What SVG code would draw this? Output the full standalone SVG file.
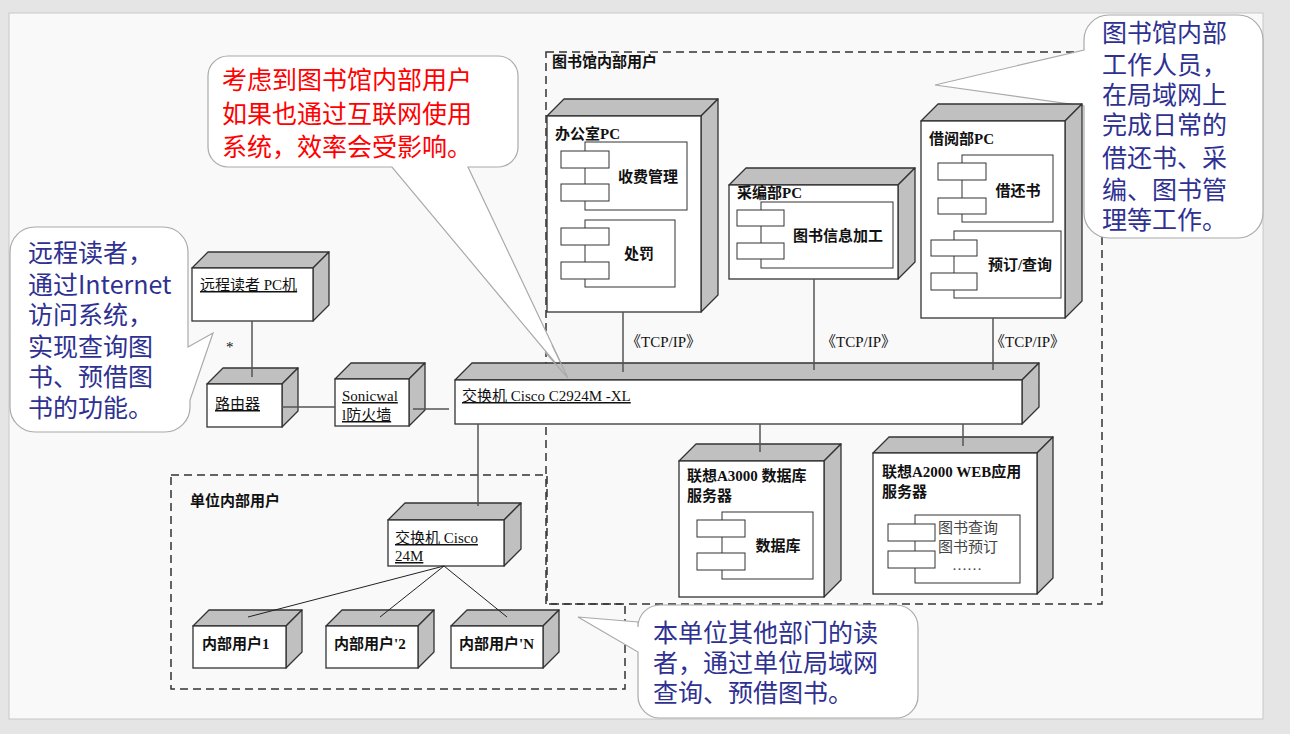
<svg xmlns="http://www.w3.org/2000/svg" width="1290" height="734" viewBox="0 0 1290 734">
<style>
.top{fill:#c0c0c0;stroke:#333;stroke-width:1.3;stroke-linejoin:round}
.front{fill:#fff;stroke:#333;stroke-width:1.3}
.comp{fill:#fff;stroke:#333;stroke-width:1}
.conn{stroke:#555;stroke-width:1.5;fill:none}
.thin{stroke:#222;stroke-width:1;fill:none}
.dash{fill:none;stroke:#333;stroke-width:1.5;stroke-dasharray:8 5}
.callout{fill:#fff;stroke:#aaa;stroke-width:1.2}
.ptr{stroke:#aaa;stroke-width:1.2;fill:none}
.lbl{font-family:"Liberation Serif","Noto Sans CJK SC",serif;font-size:15px;fill:#111}
.b{font-weight:bold}
.u{text-decoration:underline}
.cmp{font-size:15px}
.gray{fill:#444}
.ct{font-family:"Noto Sans CJK SC","Noto Sans",sans-serif;font-size:25px}
.blue{fill:#2e3192}
.red{fill:#ff0000}
</style>
<rect x="0" y="0" width="1290" height="734" fill="#e5e5e5"/>
<rect x="9" y="13" width="1254" height="706" fill="#f9f9f9" stroke="#c8c8c8" stroke-width="1"/>

<g id="frames">
<path class="dash" d="M546,52 H1102 V604 H546 Z"/>
<path class="dash" d="M171,475 H547 V604 H625 V689 H171 Z"/>
<text class="lbl b" x="552" y="67">图书馆内部用户</text>
<text class="lbl b" x="190" y="506">单位内部用户</text>
</g>

<g id="callout-red">
<path class="callout" d="M228,56 H498 A20,20 0 0 1 518,76 V147 A20,20 0 0 1 498,167 H468 L568,378 L392,167 H228 A20,20 0 0 1 208,147 V76 A20,20 0 0 1 228,56 Z"/>
<text class="ct red" x="222" y="89">考虑到图书馆内部用户</text>
<text class="ct red" x="222" y="123">如果也通过互联网使用</text>
<text class="ct red" x="222" y="156">系统，效率会受影响。</text>
</g>

<g id="callout-left">
<path class="callout" d="M35,227 H163 A25,25 0 0 1 188,252 V347 L213,333 L190,400 V407 A25,25 0 0 1 165,432 H35 A25,25 0 0 1 10,407 V252 A25,25 0 0 1 35,227 Z"/>
<text class="ct blue" x="28" y="262">远程读者，</text>
<text class="ct blue" x="28" y="294">通过Internet</text>
<text class="ct blue" x="28" y="324">访问系统，</text>
<text class="ct blue" x="28" y="356">实现查询图</text>
<text class="ct blue" x="28" y="386">书、预借图</text>
<text class="ct blue" x="28" y="417">书的功能。</text>
</g>

<g id="callout-right">
<path class="callout" d="M1109,15 H1238 A25,25 0 0 1 1263,40 V213 A25,25 0 0 1 1238,238 H1109 A25,25 0 0 1 1084,213 V106 L935,85 L1084,50 V40 A25,25 0 0 1 1109,15 Z"/>
<text class="ct blue" x="1102" y="42">图书馆内部</text>
<text class="ct blue" x="1102" y="74">工作人员，</text>
<text class="ct blue" x="1102" y="104">在局域网上</text>
<text class="ct blue" x="1102" y="134">完成日常的</text>
<text class="ct blue" x="1102" y="167">借还书、采</text>
<text class="ct blue" x="1102" y="199">编、图书管</text>
<text class="ct blue" x="1102" y="229">理等工作。</text>
</g>

<g id="callout-bottom">
<path class="callout" d="M660,605 H896 A22,22 0 0 1 918,627 V696 A22,22 0 0 1 896,718 H660 A22,22 0 0 1 638,696 V652 L578,617 L638,622 V627 A22,22 0 0 1 660,605 Z"/>
<text class="ct blue" x="653" y="642">本单位其他部门的读</text>
<text class="ct blue" x="653" y="672">者，通过单位局域网</text>
<text class="ct blue" x="653" y="702">查询、预借图书。</text>
</g>

<g id="remote-pc">
<polygon class="top" points="192,268 208,252 329,252 313,268"/>
<polygon class="top" points="313,268 329,252 329,305 313,321"/>
<rect class="front" x="192" y="268" width="121" height="53"/>
<text class="lbl u" x="200" y="290">远程读者  PC机</text>
<text class="lbl" x="226" y="352">*</text>
</g>

<g id="router">
<polygon class="top" points="207,384 223,368 298,368 282,384"/>
<polygon class="top" points="282,384 298,368 298,411 282,427"/>
<rect class="front" x="207" y="384" width="75" height="43"/>
<text class="lbl u" x="215" y="409">路由器</text>
</g>

<g id="firewall">
<polygon class="top" points="335,379 351,363 425,363 409,379"/>
<polygon class="top" points="409,379 425,363 425,410 409,426"/>
<rect class="front" x="335" y="379" width="74" height="47"/>
<text class="lbl u" x="342" y="401">Sonicwal</text>
<text class="lbl u" x="342" y="420">l防火墙</text>
</g>

<g id="main-switch">
<polygon class="top" points="455,380 472,363 1039,363 1022,380"/>
<polygon class="top" points="1022,380 1039,363 1039,407 1022,424"/>
<rect class="front" x="455" y="380" width="567" height="44"/>
<text class="lbl u" x="462" y="401">交换机  Cisco C2924M -XL</text>
</g>

<g id="office-pc">
<polygon class="top" points="547,116 564,99 718,99 701,116"/>
<polygon class="top" points="701,116 718,99 718,295 701,312"/>
<rect class="front" x="547" y="116" width="154" height="196"/>
<text class="lbl b" x="555" y="139">办公室PC</text>
<rect class="comp" x="585" y="142" width="102" height="68"/>
<rect class="comp" x="561" y="151" width="48" height="17"/>
<rect class="comp" x="561" y="184" width="48" height="17"/>
<text class="lbl b cmp" x="648" y="182" text-anchor="middle">收费管理</text>
<rect class="comp" x="585" y="220" width="90" height="67"/>
<rect class="comp" x="561" y="228" width="48" height="17"/>
<rect class="comp" x="561" y="262" width="48" height="17"/>
<text class="lbl b cmp" x="639" y="259" text-anchor="middle">处罚</text>
</g>

<g id="caibian-pc">
<polygon class="top" points="729,185 746,168 915,168 898,185"/>
<polygon class="top" points="898,185 915,168 915,262 898,279"/>
<rect class="front" x="729" y="185" width="169" height="94"/>
<text class="lbl b" x="737" y="198">采编部PC</text>
<rect class="comp" x="761" y="202" width="132" height="66"/>
<rect class="comp" x="737" y="210" width="47" height="16"/>
<rect class="comp" x="737" y="243" width="47" height="16"/>
<text class="lbl b cmp" x="838" y="241" text-anchor="middle">图书信息加工</text>
</g>

<g id="jieyue-pc">
<polygon class="top" points="921,121 938,104 1082,104 1065,121"/>
<polygon class="top" points="1065,121 1082,104 1082,301 1065,318"/>
<rect class="front" x="921" y="121" width="144" height="197"/>
<text class="lbl b" x="929" y="144">借阅部PC</text>
<rect class="comp" x="962" y="155" width="91" height="67"/>
<rect class="comp" x="938" y="163" width="48" height="17"/>
<rect class="comp" x="938" y="198" width="48" height="16"/>
<text class="lbl b cmp" x="1018" y="196" text-anchor="middle">借还书</text>
<rect class="comp" x="954" y="231" width="107" height="67"/>
<rect class="comp" x="931" y="240" width="46" height="16"/>
<rect class="comp" x="931" y="273" width="46" height="17"/>
<text class="lbl b cmp" x="1020" y="270" text-anchor="middle">预订/查询</text>
</g>

<g id="db-server">
<polygon class="top" points="679,461 696,444 841,444 824,461"/>
<polygon class="top" points="824,461 841,444 841,580 824,597"/>
<rect class="front" x="679" y="461" width="145" height="136"/>
<text class="lbl b" x="687" y="481">联想A3000  数据库</text>
<text class="lbl b" x="687" y="501">服务器</text>
<rect class="comp" x="722" y="512" width="91" height="67"/>
<rect class="comp" x="697" y="520" width="48" height="17"/>
<rect class="comp" x="697" y="553" width="48" height="17"/>
<text class="lbl b cmp" x="778" y="551" text-anchor="middle">数据库</text>
</g>

<g id="web-server">
<polygon class="top" points="873,453 889,437 1053,437 1037,453"/>
<polygon class="top" points="1037,453 1053,437 1053,578 1037,594"/>
<rect class="front" x="873" y="453" width="164" height="141"/>
<text class="lbl b" x="882" y="477">联想A2000 WEB应用</text>
<text class="lbl b" x="882" y="497">服务器</text>
<rect class="comp" x="915" y="515" width="105" height="68"/>
<rect class="comp" x="888" y="524" width="47" height="17"/>
<rect class="comp" x="888" y="551" width="47" height="17"/>
<text class="lbl gray" x="938" y="533">图书查询</text>
<text class="lbl gray" x="938" y="552">图书预订</text>
<text class="lbl gray" x="952" y="570">……</text>
</g>

<g id="unit-switch">
<polygon class="top" points="388,520 405,503 521,503 504,520"/>
<polygon class="top" points="504,520 521,503 521,549 504,566"/>
<rect class="front" x="388" y="520" width="116" height="46"/>
<text class="lbl u" x="395" y="543">交换机  Cisco</text>
<text class="lbl u" x="395" y="561">24M</text>
</g>

<g id="user-1">
<polygon class="top" points="193,626 209,610 302,610 286,626"/>
<polygon class="top" points="286,626 302,610 302,652 286,668"/>
<rect class="front" x="193" y="626" width="93" height="42"/>
<text class="lbl b" x="202" y="649">内部用户1</text>
</g>
<g id="user-2">
<polygon class="top" points="326,626 342,610 434,610 418,626"/>
<polygon class="top" points="418,626 434,610 434,652 418,668"/>
<rect class="front" x="326" y="626" width="92" height="42"/>
<text class="lbl b" x="334" y="649">内部用户'2</text>
</g>
<g id="user-n">
<polygon class="top" points="451,626 467,610 559,610 543,626"/>
<polygon class="top" points="543,626 559,610 559,652 543,668"/>
<rect class="front" x="451" y="626" width="92" height="42"/>
<text class="lbl b" x="459" y="649">内部用户'N</text>
</g>

<g id="connectors">
<line class="conn" x1="252" y1="321" x2="252" y2="377"/>
<line class="conn" x1="282" y1="407" x2="335" y2="407"/>
<line class="conn" x1="413" y1="409" x2="449" y2="409"/>
<line class="conn" x1="623" y1="312" x2="623" y2="372"/>
<line class="conn" x1="814" y1="279" x2="814" y2="370"/>
<line class="conn" x1="993" y1="318" x2="993" y2="370"/>
<line class="conn" x1="760" y1="424" x2="760" y2="452"/>
<line class="conn" x1="963" y1="424" x2="963" y2="446"/>
<line class="conn" x1="478" y1="424" x2="478" y2="506"/>
<line class="thin" x1="444" y1="566" x2="248" y2="617"/>
<line class="thin" x1="444" y1="566" x2="380" y2="617"/>
<line class="thin" x1="444" y1="566" x2="507" y2="617"/>
<text class="lbl" x="626" y="347">《TCP/IP》</text>
<text class="lbl" x="821" y="347">《TCP/IP》</text>
<text class="lbl" x="990" y="347">《TCP/IP》</text>
<path class="ptr" d="M545,352 L568,378 M552,345 L568,378"/>
</g>
</svg>
